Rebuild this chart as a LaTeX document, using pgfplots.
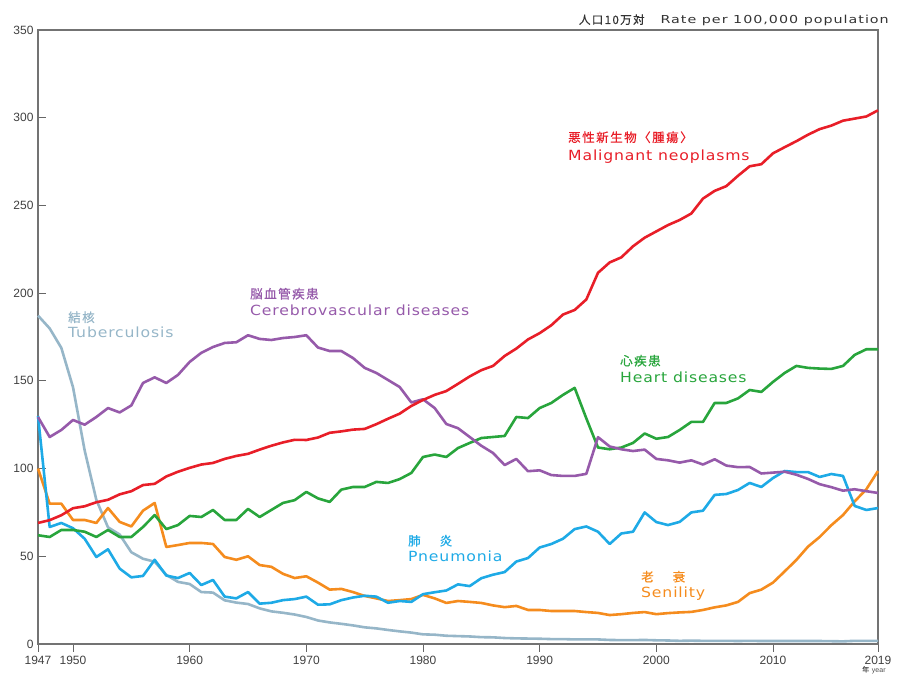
\documentclass[border=0pt]{standalone}
\usepackage{fontspec}
\usepackage{pgfplots}
\pgfplotsset{compat=1.18}
\setmainfont{Liberation Sans}
\newfontfamily\lbl[FakeStretch=1.12,LetterSpace=6]{DejaVu Sans}
\newfontfamily\lblw[FakeStretch=1.3,LetterSpace=9]{DejaVu Sans}
\newfontfamily\cjk[LetterSpace=12,FakeBold=0.6]{Noto Sans CJK JP}
\newfontfamily\tickf{Liberation Sans}
\definecolor{cred}{RGB}{232,30,40}
\definecolor{cpur}{RGB}{150,90,170}
\definecolor{cgrn}{RGB}{40,165,60}
\definecolor{cblu}{RGB}{30,170,230}
\definecolor{corg}{RGB}{245,140,30}
\definecolor{ctb}{RGB}{150,182,200}
\begin{document}
\begin{tikzpicture}[x=1pt,y=1pt]
\useasboundingbox (0,0) rectangle (898,675);
\begin{axis}[
  at={(38pt,31pt)}, anchor=south west,
  scale only axis, width=840pt, height=614pt,
  xmin=1947, xmax=2019, ymin=0, ymax=350,
  xtick={1947,1950,1960,1970,1980,1990,2000,2010,2019},
  ytick={0,50,100,150,200,250,300,350},
  tick pos=left, xtick align=outside, ytick align=inside, major tick length=8pt,
  tick style={black!60, line width=0.8pt},
  axis line style={draw=black!55, line width=1.3pt},
  /pgf/number format/assume math mode=true,
  /pgf/number format/1000 sep={},
  ticklabel style={font=\tickf\fontsize{12}{12}\selectfont, text=black!75},
  xticklabel style={yshift=-1pt},
  yticklabel style={xshift=-1pt},
  every axis plot/.append style={line width=2.6pt, line join=round, no marks},
  clip=false,
]
% Tuberculosis
\addplot[ctb] coordinates {
(1947,187.2)(1948,179.9)(1949,168.8)(1950,146.4)(1951,110.3)(1952,82.2)(1953,66.5)(1954,62.4)(1955,52.3)(1956,48.6)(1957,46.9)(1958,39.4)(1959,35.4)(1960,34.2)(1961,29.6)(1962,29.3)(1963,24.9)(1964,23.6)(1965,22.8)(1966,20.3)(1967,18.6)(1968,17.8)(1969,16.8)(1970,15.4)(1971,13.4)(1972,12.3)(1973,11.5)(1974,10.6)(1975,9.5)(1976,8.9)(1977,8.0)(1978,7.2)(1979,6.5)(1980,5.5)(1981,5.3)(1982,4.7)(1983,4.5)(1984,4.3)(1985,3.9)(1986,3.8)(1987,3.4)(1988,3.2)(1989,3.1)(1990,3.0)(1991,2.8)(1992,2.8)(1993,2.6)(1994,2.6)(1995,2.6)(1996,2.3)(1997,2.2)(1998,2.2)(1999,2.3)(2000,2.1)(2001,2.0)(2002,1.8)(2003,1.9)(2004,1.8)(2005,1.8)(2006,1.8)(2007,1.7)(2008,1.8)(2009,1.7)(2010,1.7)(2011,1.7)(2012,1.7)(2013,1.7)(2014,1.7)(2015,1.6)(2016,1.5)(2017,1.8)(2018,1.8)(2019,1.8)};
% Senility
\addplot[corg] coordinates {
(1947,100)(1948,80)(1949,80)(1950,70.7)(1951,70.7)(1952,69)(1953,77.5)(1954,69.6)(1955,67)(1956,76)(1957,80.4)(1958,55.3)(1959,56.4)(1960,57.6)(1961,57.6)(1962,57)(1963,49.6)(1964,48)(1965,50)(1966,45)(1967,44)(1968,40)(1969,37.6)(1970,38.6)(1971,35)(1972,31)(1973,31.4)(1974,29.6)(1975,27.4)(1976,26)(1977,24.5)(1978,25)(1979,25.6)(1980,28)(1981,26)(1982,23.4)(1983,24.5)(1984,24)(1985,23.4)(1986,22)(1987,21)(1988,21.7)(1989,19.4)(1990,19.4)(1991,18.8)(1992,18.8)(1993,18.8)(1994,18.2)(1995,17.7)(1996,16.5)(1997,17)(1998,17.7)(1999,18.2)(2000,17)(2001,17.6)(2002,18)(2003,18.3)(2004,19.4)(2005,20.9)(2006,22)(2007,24)(2008,29)(2009,31)(2010,35)(2011,41.4)(2012,47.9)(2013,55.5)(2014,61)(2015,67.7)(2016,73.5)(2017,81.3)(2018,88.2)(2019,98.6)};
% Pneumonia
\addplot[cblu] coordinates {
(1947,130)(1948,66.7)(1949,69)(1950,66)(1951,60)(1952,49.6)(1953,54)(1954,43)(1955,38)(1956,38.8)(1957,48)(1958,39)(1959,37.6)(1960,40.5)(1961,33.6)(1962,36.5)(1963,27)(1964,26)(1965,29.6)(1966,23)(1967,23.5)(1968,25)(1969,25.6)(1970,27)(1971,22.4)(1972,22.6)(1973,25)(1974,26.5)(1975,27.5)(1976,27)(1977,23.5)(1978,24.5)(1979,24)(1980,28.4)(1981,29.5)(1982,30.5)(1983,34)(1984,33)(1985,37.5)(1986,39.5)(1987,41)(1988,47)(1989,49)(1990,55)(1991,57)(1992,60)(1993,65.5)(1994,67)(1995,64)(1996,57)(1997,63)(1998,64)(1999,75)(2000,69.5)(2001,67.8)(2002,69.6)(2003,75)(2004,76)(2005,85)(2006,85.5)(2007,87.8)(2008,91.8)(2009,89.5)(2010,94.6)(2011,98.6)(2012,98)(2013,98)(2014,95.2)(2015,96.9)(2016,95.8)(2017,78.7)(2018,76.4)(2019,77.5)};
% Heart diseases
\addplot[cgrn] coordinates {
(1947,62)(1948,61)(1949,65)(1950,65)(1951,64)(1952,61)(1953,65)(1954,61)(1955,61)(1956,66.7)(1957,73.5)(1958,65.5)(1959,67.8)(1960,73)(1961,72.4)(1962,76.4)(1963,70.7)(1964,70.7)(1965,77)(1966,72.4)(1967,76.4)(1968,80.4)(1969,82)(1970,86.7)(1971,83)(1972,81)(1973,88)(1974,89.5)(1975,89.5)(1976,92.4)(1977,91.8)(1978,94)(1979,97.5)(1980,106.6)(1981,108)(1982,106.6)(1983,111.7)(1984,114.6)(1985,117.4)(1986,118)(1987,118.6)(1988,129.4)(1989,128.8)(1990,134.5)(1991,137.4)(1992,142)(1993,146)(1994,128.6)(1995,112)(1996,111)(1997,112)(1998,114.6)(1999,120)(2000,117)(2001,118)(2002,122)(2003,126.6)(2004,126.6)(2005,137.4)(2006,137.4)(2007,140)(2008,144.8)(2009,143.7)(2010,149.4)(2011,154.5)(2012,158.5)(2013,157.4)(2014,157)(2015,156.8)(2016,158.5)(2017,164.8)(2018,168)(2019,168)};
% Cerebrovascular diseases
\addplot[cpur] coordinates {
(1947,129.4)(1948,118)(1949,122)(1950,127.7)(1951,125)(1952,129.4)(1953,134.5)(1954,132)(1955,136)(1956,148.8)(1957,152)(1958,148.8)(1959,153.4)(1960,160.8)(1961,166)(1962,169.3)(1963,171.6)(1964,172)(1965,176)(1966,173.9)(1967,173.3)(1968,174.4)(1969,175)(1970,176)(1971,169)(1972,167)(1973,167)(1974,163)(1975,157.4)(1976,154.5)(1977,150.5)(1978,146.5)(1979,137.7)(1980,139.5)(1981,134.5)(1982,125.4)(1983,123)(1984,118)(1985,113)(1986,108.9)(1987,102)(1988,105.5)(1989,98.5)(1990,99)(1991,96.3)(1992,95.8)(1993,95.8)(1994,97)(1995,117.9)(1996,112.6)(1997,111)(1998,110)(1999,110.8)(2000,105.5)(2001,104.7)(2002,103.4)(2003,104.7)(2004,102.3)(2005,105.3)(2006,101.7)(2007,100.8)(2008,100.9)(2009,97.2)(2010,97.7)(2011,98.2)(2012,96.5)(2013,94.1)(2014,91.1)(2015,89.4)(2016,87.4)(2017,88.2)(2018,87.1)(2019,86.1)};
% Malignant neoplasms
\addplot[cred] coordinates {
(1947,69.0)(1948,70.6)(1949,73.4)(1950,77.4)(1951,78.5)(1952,80.8)(1953,82.2)(1954,85.3)(1955,87.1)(1956,90.6)(1957,91.3)(1958,95.5)(1959,98.2)(1960,100.4)(1961,102.3)(1962,103.2)(1963,105.5)(1964,107.2)(1965,108.4)(1966,110.8)(1967,113.0)(1968,114.9)(1969,116.4)(1970,116.3)(1971,117.7)(1972,120.4)(1973,121.2)(1974,122.2)(1975,122.6)(1976,125.3)(1977,128.4)(1978,131.3)(1979,135.7)(1980,139.1)(1981,142.0)(1982,144.2)(1983,148.3)(1984,152.5)(1985,156.1)(1986,158.5)(1987,164.2)(1988,168.4)(1989,173.6)(1990,177.2)(1991,181.7)(1992,187.8)(1993,190.4)(1994,196.4)(1995,211.6)(1996,217.5)(1997,220.4)(1998,226.7)(1999,231.6)(2000,235.2)(2001,238.8)(2002,241.7)(2003,245.4)(2004,253.9)(2005,258.3)(2006,261.0)(2007,266.9)(2008,272.3)(2009,273.5)(2010,279.7)(2011,283.2)(2012,286.6)(2013,290.3)(2014,293.5)(2015,295.5)(2016,298.3)(2017,299.5)(2018,300.7)(2019,304.2)};
\end{axis}
% series labels
\newcommand{\cj}{\cjk\fontsize{12.5}{12.5}\selectfont}
\newcommand{\en}{\lbl\fontsize{14}{14}\selectfont}
\node[anchor=base west, inner sep=0, text=cred] at (568,533) {\cj 悪性新生物〈腫瘍〉};
\node[anchor=base west, inner sep=0, text=cred] at (568,514) {\en Malignant neoplasms};
\node[anchor=base west, inner sep=0, text=cpur] at (250,376.5) {\cj 脳血管疾患};
\node[anchor=base west, inner sep=0, text=cpur] at (250,359) {\en Cerebrovascular diseases};
\node[anchor=base west, inner sep=0, text=ctb] at (68,353) {\cj 結核};
\node[anchor=base west, inner sep=0, text=ctb] at (68,337) {\en Tuberculosis};
\node[anchor=base west, inner sep=0, text=cgrn] at (620,309.5) {\cj 心疾患};
\node[anchor=base west, inner sep=0, text=cgrn] at (620,292) {\en Heart diseases};
\node[anchor=base west, inner sep=0, text=cblu] at (408,129.5) {\cj 肺\hspace{19pt}炎};
\node[anchor=base west, inner sep=0, text=cblu] at (408,113) {\en Pneumonia};
\node[anchor=base west, inner sep=0, text=corg] at (641,93.5) {\cj 老\hspace{19pt}衰};
\node[anchor=base west, inner sep=0, text=corg] at (641,77) {\en Senility};
% unit label
\node[anchor=base east, inner sep=0, text=black!80] at (889,651) {{\cjk\fontsize{11.5}{11.5}\selectfont 人口10万対}\hspace{16pt}{\lblw\fontsize{11}{11}\selectfont Rate per 100,000 population}};
\node[anchor=north west, inner sep=0, text=black!70] at (862,9) {{\cjk\fontsize{7}{7}\selectfont 年} {\tickf\fontsize{7}{7}\selectfont year}};
\end{tikzpicture}
\end{document}
